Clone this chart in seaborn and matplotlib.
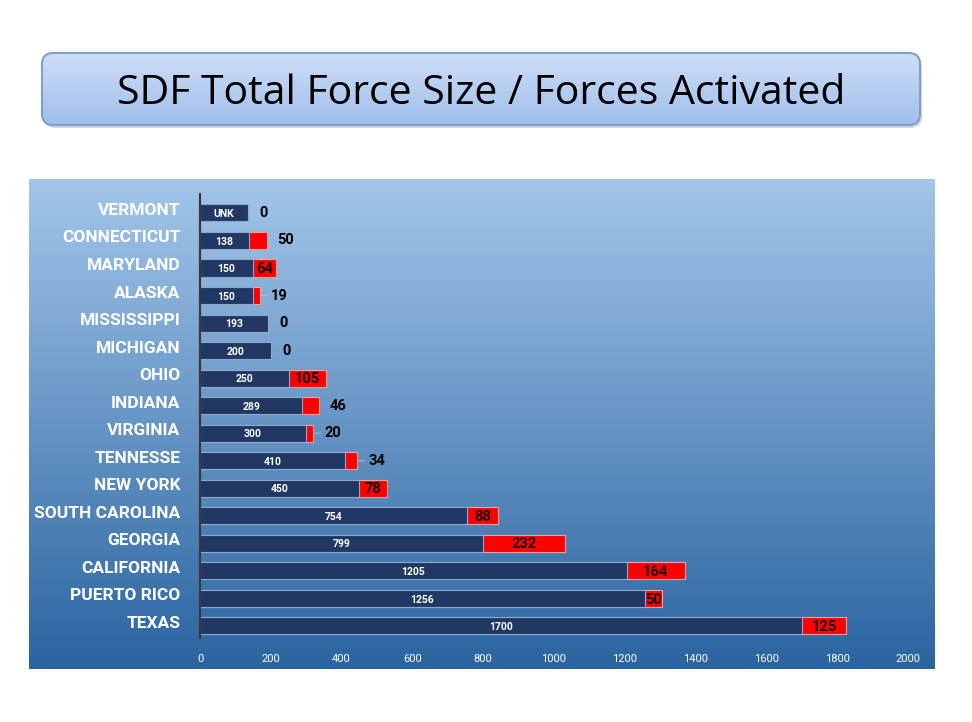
#!/usr/bin/env python3
# SDF total force size vs forces activated - stacked horizontal bars

import numpy as np
import pandas as pd
import matplotlib.pyplot as plt
import matplotlib.transforms as mtransforms
import seaborn as sns
from matplotlib.patches import FancyBboxPatch

# ============================================================================
# DATA
# ============================================================================
states = ["VERMONT", "CONNECTICUT", "MARYLAND", "ALASKA", "MISSISSIPPI",
          "MICHIGAN", "OHIO", "INDIANA", "VIRGINIA", "TENNESSE", "NEW YORK",
          "SOUTH CAROLINA", "GEORGIA", "CALIFORNIA", "PUERTO RICO", "TEXAS"]
force_size = [135, 138, 150, 150, 193, 200, 250, 289, 300, 410, 450,
              754, 799, 1205, 1256, 1700]
force_labels = ["UNK", "138", "150", "150", "193", "200", "250", "289", "300",
                "410", "450", "754", "799", "1205", "1256", "1700"]
activated = [0, 50, 64, 19, 0, 0, 105, 46, 20, 34, 78, 88, 232, 164, 50, 125]
outside_labels = ["VERMONT", "CONNECTICUT", "ALASKA", "MISSISSIPPI",
                  "MICHIGAN", "INDIANA", "VIRGINIA", "TENNESSE"]
leader_lines = ["ALASKA", "VIRGINIA", "TENNESSE"]
x_ticks = [0, 200, 400, 600, 800, 1000, 1200, 1400, 1600, 1800, 2000]

df = pd.DataFrame({"state": states, "size": force_size, "active": activated})
df["total"] = df["size"] + df["active"]

# ============================================================================
# THEME SETTINGS
# ============================================================================
sns.set_theme(style="white")
plt.rcParams['font.family'] = ['Roboto', 'DejaVu Sans']

W, H = 972, 722
fig = plt.figure(figsize=(W / 100, H / 100), dpi=100, facecolor='white')

# background canvas in pixel coordinates
bg = fig.add_axes([0, 0, 1, 1])
bg.set_xlim(0, W)
bg.set_ylim(H, 0)
bg.axis('off')

# chart panel gradient
grad = np.linspace(0, 1, 256).reshape(-1, 1)
top_c = np.array([163, 198, 234]) / 255
bot_c = np.array([42, 100, 160]) / 255
panel = top_c + (bot_c - top_c) * grad
bg.imshow(panel[:, None, :].repeat(2, axis=1), extent=[29, 934, 669, 179],
          aspect='auto', interpolation='bicubic', zorder=1)

# title box with shadow and gradient
shadow = FancyBboxPatch((44, 56), 878, 72, boxstyle="round,pad=0,rounding_size=11",
                        facecolor='#b9b9b9', edgecolor='none', alpha=0.6, zorder=2)
bg.add_patch(shadow)
box = FancyBboxPatch((42, 53), 878, 72, boxstyle="round,pad=0,rounding_size=11",
                     facecolor='none', edgecolor='#7f9fcf', linewidth=1.5, zorder=4)
bg.add_patch(box)
t_top = np.array([206, 222, 246]) / 255
t_bot = np.array([160, 190, 236]) / 255
tgrad = t_top + (t_bot - t_top) * grad
img = bg.imshow(tgrad[:, None, :].repeat(2, axis=1), extent=[42, 920, 125, 53],
                aspect='auto', interpolation='bicubic', zorder=3)
img.set_clip_path(box)
bg.text(481, 94, "SDF Total Force Size / Forces Activated", ha='center', va='center',
        fontsize=29.5, color='black', zorder=5,
        family=['Open Sans', 'DejaVu Sans'])

# ============================================================================
# CREATE PLOT
# ============================================================================
ax = fig.add_axes([200 / W, 1 - 640 / H, 708 / W, 445 / H])
ax.patch.set_alpha(0)

sns.barplot(data=df, x="total", y="state", color='#ff0000', saturation=1,
            width=0.62, edgecolor='#f4a0a0', linewidth=0.8, ax=ax)
sns.barplot(data=df, x="size", y="state", color='#213864', saturation=1,
            width=0.62, edgecolor='#8fa8cf', linewidth=0.8, ax=ax)

for i, row in df.iterrows():
    ax.text(row["size"] / 2, i + 0.04, force_labels[i], ha='center', va='center',
            color='white', fontsize=7.5, fontweight='bold')
    if row["state"] in outside_labels:
        arrow = None
        if row["state"] in leader_lines:
            arrow = dict(arrowstyle='-', color='#c0c0c0', lw=0.6, shrinkA=0, shrinkB=1)
        ax.annotate(str(row["active"]), xy=(row["total"], i), xytext=(8, 0),
                    textcoords='offset points', ha='left', va='center',
                    fontsize=10.5, fontweight='bold', color='black', arrowprops=arrow)
    else:
        ax.text(row["size"] + row["active"] / 2, i + 0.04, str(row["active"]),
                ha='center', va='center', fontsize=10.5, fontweight='bold',
                color='#1a0000')

ax.set_xlim(0, 2000)
ax.set_ylim(15.51, -0.65)
ax.set_xticks(x_ticks)
ax.set_xticklabels([str(t) for t in x_ticks], color='white', fontsize=8)
ax.tick_params(axis='x', length=0, pad=10)
ax.tick_params(axis='y', length=0, pad=14)
lift = mtransforms.ScaledTranslation(0, 4 / 100, fig.dpi_scale_trans)
for lab in ax.get_yticklabels():
    lab.set_color('white')
    lab.set_fontsize(12.5)
    lab.set_fontweight('bold')
    lab.set_transform(lab.get_transform() + lift)
ax.set_xlabel("")
ax.set_ylabel("")
for s in ['top', 'right', 'bottom']:
    ax.spines[s].set_visible(False)
ax.spines['left'].set_color('#3a3a3a')
ax.spines['left'].set_linewidth(1.6)
ax.spines['left'].set_bounds(15.45, -0.7)

# ============================================================================
# SAVE OUTPUT
# ============================================================================
plt.savefig("out.png", dpi=100)
plt.close()
